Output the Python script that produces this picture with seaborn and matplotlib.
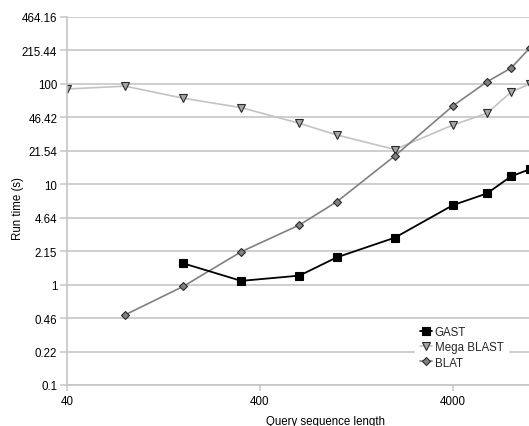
import numpy as np
import pandas as pd
import matplotlib
matplotlib.use("Agg")
import matplotlib.pyplot as plt
import seaborn as sns

# ---- data ----
lengths = [40, 80, 160, 320, 640, 1000, 2000, 4000, 6000, 8000, 10000]
mega_blast = [89, 95, 72, 58, 40.5, 31, 22.2, 39, 51, 83, 100]
blat_lengths = [80, 160, 320, 640, 1000, 2000, 4000, 6000, 8000, 10000]
blat = [0.50, 0.96, 2.13, 3.93, 6.7, 19.2, 60.5, 105, 144, 228]
gast_lengths = [160, 320, 640, 1000, 2000, 4000, 6000, 8000, 10000]
gast = [1.63, 1.09, 1.23, 1.87, 2.94, 6.2, 8.1, 12.0, 14.1]

y_ticks = [0.1, 0.2154, 0.4642, 1, 2.154, 4.642, 10, 21.54, 46.42, 100, 215.44, 464.16]
y_tick_labels = ["0.1", "0.22", "0.46", "1", "2.15", "4.64", "10", "21.54",
                 "46.42", "100", "215.44", "464.16"]
x_ticks = [40, 400, 4000]
x_tick_labels = ["40", "400", "4000"]

sns.set_theme(style="white")
plt.rcParams["font.family"] = ["Liberation Sans", "DejaVu Sans"]
FS = 8.3

W, H = 529, 427
fig = plt.figure(figsize=(W / 100, H / 100), dpi=100)
L, R, T, B = 67, 529, 18, 386
ax = fig.add_axes([L / W, 1 - B / H, (R - L) / W, (B - T) / H])

mega_df = pd.DataFrame({"len": lengths, "time": mega_blast})
blat_df = pd.DataFrame({"len": blat_lengths, "time": blat})
gast_df = pd.DataFrame({"len": gast_lengths, "time": gast})

sns.lineplot(data=mega_df, x="len", y="time", ax=ax, color="#c3c3c3", linewidth=1.2,
             marker="v", markersize=5.5, markerfacecolor="#a6a6a6",
             markeredgecolor="#2a2a2a", markeredgewidth=0.8, label="Mega BLAST")
sns.lineplot(data=blat_df, x="len", y="time", ax=ax, color="#808080", linewidth=1.2,
             marker="D", markersize=4.2, markerfacecolor="#808080",
             markeredgecolor="#2a2a2a", markeredgewidth=0.8, label="BLAT")
sns.lineplot(data=gast_df, x="len", y="time", ax=ax, color="#000000", linewidth=1.3,
             marker="s", markersize=6, markerfacecolor="#000000",
             markeredgecolor="#000000", markeredgewidth=0.8, label="GAST")

ax.set_xscale("log")
ax.set_yscale("log")
ax.set_xlim(40, 40 * 10 ** ((R - L) / 193.0))
ax.set_ylim(0.1, 464.16)

ax.set_yticks(y_ticks)
ax.set_yticklabels(y_tick_labels)
ax.set_xticks(x_ticks)
ax.set_xticklabels(x_tick_labels)
ax.minorticks_off()

ax.yaxis.grid(True, color="#c6c6c6", linewidth=1.2)
ax.xaxis.grid(False)
ax.set_axisbelow(True)
for s in ["top", "right"]:
    ax.spines[s].set_visible(False)
for s in ["left", "bottom"]:
    ax.spines[s].set_color("#c6c6c6")
    ax.spines[s].set_linewidth(1.2)

ax.tick_params(axis="y", which="major", direction="out", length=5, width=1.1,
               color="#c6c6c6", labelsize=FS, labelcolor="#000000", pad=2, left=True)
ax.tick_params(axis="x", which="major", direction="out", length=4, width=1.1,
               color="#c6c6c6", labelsize=FS, labelcolor="#000000", pad=3, bottom=True)

ax.set_xlabel("Query sequence length", fontsize=FS, color="#000000")
ax.set_ylabel("Run time (s)", fontsize=FS, color="#000000")
ax.xaxis.set_label_coords((325.5 - L) / (R - L), (B - 416.5) / (B - T))
ax.yaxis.set_label_coords((24 - L) / (R - L), (B - 209) / (B - T))

handles, labels = ax.get_legend_handles_labels()
order = [labels.index(n) for n in ["GAST", "Mega BLAST", "BLAT"]]
leg = ax.legend([handles[i] for i in order], [labels[i] for i in order],
                loc="upper left", bbox_to_anchor=(415 / W, 1 - 322 / H),
                bbox_transform=fig.transFigure, fontsize=FS, frameon=True,
                fancybox=False, framealpha=1, facecolor="white", edgecolor="white",
                handlelength=1.1, handletextpad=0.2, labelspacing=0.3,
                borderpad=0.4, borderaxespad=0)

fig.savefig("out.png", dpi=100)
